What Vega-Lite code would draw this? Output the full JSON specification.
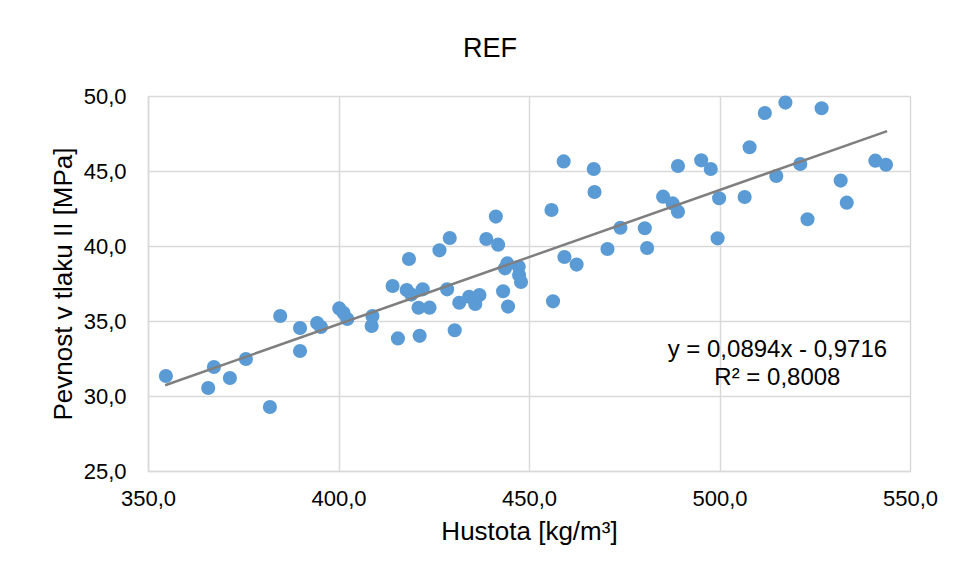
{
  "$schema": "https://vega.github.io/schema/vega-lite/v6.json",
  "width": 762,
  "height": 375,
  "autosize": {"type": "none"},
  "padding": {"left": 148, "top": 96, "right": 47, "bottom": 106},
  "background": "white",
  "title": {"text": "REF", "fontSize": 27, "font": "Liberation Sans", "fontWeight": "normal", "color": "#000000", "offset": 22, "dx": -39},
  "datasets": {
    "points": [
      {"hustota": 354.7, "pevnost": 31.33},
      {"hustota": 365.8, "pevnost": 30.53},
      {"hustota": 367.3, "pevnost": 31.93},
      {"hustota": 371.5, "pevnost": 31.2},
      {"hustota": 375.7, "pevnost": 32.47},
      {"hustota": 382.0, "pevnost": 29.27},
      {"hustota": 384.7, "pevnost": 35.33},
      {"hustota": 389.9, "pevnost": 34.53},
      {"hustota": 389.9, "pevnost": 33.0},
      {"hustota": 394.4, "pevnost": 34.87},
      {"hustota": 395.4, "pevnost": 34.6},
      {"hustota": 400.2, "pevnost": 35.84},
      {"hustota": 401.3, "pevnost": 35.55},
      {"hustota": 402.3, "pevnost": 35.13},
      {"hustota": 408.9, "pevnost": 35.33},
      {"hustota": 408.7, "pevnost": 34.67},
      {"hustota": 414.2, "pevnost": 37.33},
      {"hustota": 415.6, "pevnost": 33.84},
      {"hustota": 417.9, "pevnost": 37.07},
      {"hustota": 418.5, "pevnost": 39.13},
      {"hustota": 419.1, "pevnost": 36.76},
      {"hustota": 421.0, "pevnost": 35.88},
      {"hustota": 421.3, "pevnost": 34.01},
      {"hustota": 422.1, "pevnost": 37.11},
      {"hustota": 423.9, "pevnost": 35.89},
      {"hustota": 426.5, "pevnost": 39.71},
      {"hustota": 428.5, "pevnost": 37.11},
      {"hustota": 429.2, "pevnost": 40.53},
      {"hustota": 430.5, "pevnost": 34.38},
      {"hustota": 431.7, "pevnost": 36.22},
      {"hustota": 434.3, "pevnost": 36.62},
      {"hustota": 435.9, "pevnost": 36.13},
      {"hustota": 437.0, "pevnost": 36.73},
      {"hustota": 438.8, "pevnost": 40.47},
      {"hustota": 441.3, "pevnost": 41.96},
      {"hustota": 441.9, "pevnost": 40.09},
      {"hustota": 443.2, "pevnost": 36.98},
      {"hustota": 443.7, "pevnost": 38.51},
      {"hustota": 444.3, "pevnost": 38.84},
      {"hustota": 444.5, "pevnost": 35.96},
      {"hustota": 447.3, "pevnost": 38.62},
      {"hustota": 447.4, "pevnost": 38.07},
      {"hustota": 447.9, "pevnost": 37.6},
      {"hustota": 455.9, "pevnost": 42.4},
      {"hustota": 456.3, "pevnost": 36.31},
      {"hustota": 459.1, "pevnost": 45.64},
      {"hustota": 459.3, "pevnost": 39.27},
      {"hustota": 462.5, "pevnost": 38.76},
      {"hustota": 467.0, "pevnost": 45.13},
      {"hustota": 467.2, "pevnost": 43.6},
      {"hustota": 470.6, "pevnost": 39.8},
      {"hustota": 474.0, "pevnost": 41.22},
      {"hustota": 480.4, "pevnost": 41.18},
      {"hustota": 481.0, "pevnost": 39.87},
      {"hustota": 485.2, "pevnost": 43.29},
      {"hustota": 487.7, "pevnost": 42.84},
      {"hustota": 489.1, "pevnost": 45.33},
      {"hustota": 489.1, "pevnost": 42.29},
      {"hustota": 495.2, "pevnost": 45.71},
      {"hustota": 497.7, "pevnost": 45.13},
      {"hustota": 499.5, "pevnost": 40.51},
      {"hustota": 499.9, "pevnost": 43.18},
      {"hustota": 506.6, "pevnost": 43.27},
      {"hustota": 507.9, "pevnost": 46.58},
      {"hustota": 511.9, "pevnost": 48.87},
      {"hustota": 514.9, "pevnost": 44.67},
      {"hustota": 517.3, "pevnost": 49.56},
      {"hustota": 521.2, "pevnost": 45.47},
      {"hustota": 523.1, "pevnost": 41.78},
      {"hustota": 526.8, "pevnost": 49.18},
      {"hustota": 531.8, "pevnost": 44.36},
      {"hustota": 533.4, "pevnost": 42.89},
      {"hustota": 540.9, "pevnost": 45.69},
      {"hustota": 543.7, "pevnost": 45.42}
    ],
    "trend": [
      {"hustota": 354.5, "pevnost": 30.72},
      {"hustota": 544.0, "pevnost": 47.66}
    ],
    "labels": [
      {"hustota": 515.2, "pevnost": 33.07, "text": "y = 0,0894x - 0,9716"},
      {"hustota": 515.2, "pevnost": 31.18, "text": "R² = 0,8008"}
    ]
  },
  "encoding": {
    "x": {
      "field": "hustota", "type": "quantitative",
      "scale": {"domain": [350, 550], "nice": false, "zero": false},
      "axis": {
        "title": "Hustota [kg/m³]",
        "values": [350, 400, 450, 500, 550],
        "labelExpr": "replace(format(datum.value, '.1f'), '.', ',')",
        "labelPadding": 17,
        "titlePadding": 9
      }
    },
    "y": {
      "field": "pevnost", "type": "quantitative",
      "scale": {"domain": [25, 50], "nice": false, "zero": false},
      "axis": {
        "title": "Pevnost v tlaku II [MPa]",
        "values": [25, 30, 35, 40, 45, 50],
        "labelExpr": "replace(format(datum.value, '.1f'), '.', ',')",
        "labelPadding": 22,
        "titlePadding": 7
      }
    }
  },
  "layer": [
    {
      "data": {"name": "points"},
      "mark": {"type": "point", "filled": true, "shape": "circle", "size": 200, "color": "#5b9bd5", "opacity": 1}
    },
    {
      "data": {"name": "trend"},
      "mark": {"type": "line", "color": "#7f7f7f", "strokeWidth": 2.5}
    },
    {
      "data": {"name": "labels"},
      "mark": {"type": "text", "font": "Liberation Sans", "fontSize": 24, "color": "#000000", "align": "center", "baseline": "middle"},
      "encoding": {"text": {"field": "text"}}
    }
  ],
  "config": {
    "view": {"stroke": null},
    "axis": {
      "grid": true,
      "gridColor": "#d9d9d9",
      "gridWidth": 1.5,
      "domainColor": "#d9d9d9",
      "domainWidth": 1.5,
      "ticks": false,
      "labelFont": "Liberation Sans",
      "labelFontSize": 22,
      "labelColor": "#000000",
      "labelOverlap": false,
      "labelFlush": false,
      "labelBound": false,
      "titleFont": "Liberation Sans",
      "titleFontSize": 26,
      "titleFontWeight": "normal",
      "titleColor": "#000000"
    }
  }
}
